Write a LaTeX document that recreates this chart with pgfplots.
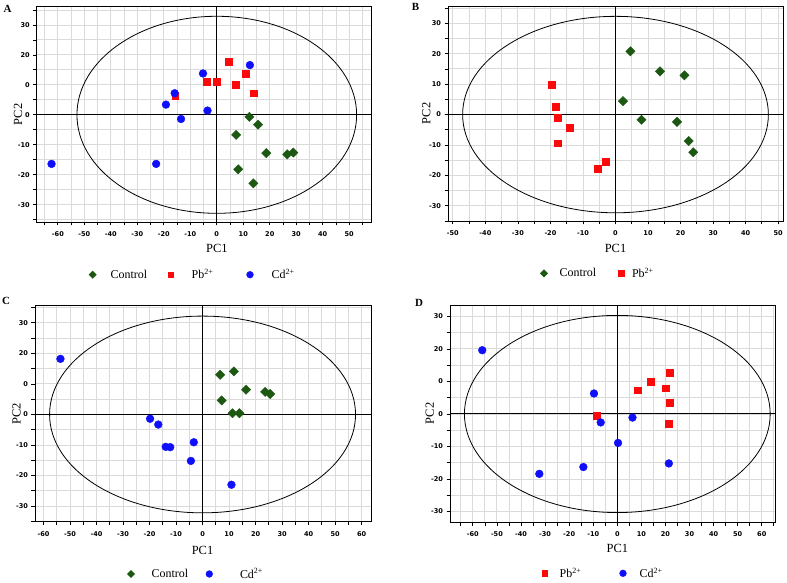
\documentclass[border=0pt]{standalone}
\usepackage{pgfplots}
\pgfplotsset{compat=1.18}
\usepackage{fontspec}
\setmainfont{Liberation Serif}
\newfontfamily\tickfont{DejaVu Sans}
\definecolor{cgreen}{RGB}{28,88,18}
\definecolor{cred}{RGB}{250,10,10}
\definecolor{cblue}{RGB}{15,15,250}
\definecolor{gridgray}{RGB}{218,218,218}
\pgfplotsset{
  pcaaxis/.style={
    scale only axis,
    axis line style={black, line width=0.9bp},
    tick align=outside, xtick pos=bottom, ytick pos=left,
    major tick length=3.5bp, minor tick length=3.5bp,
    every tick/.style={black, line width=0.8bp},
    grid=both,
    major grid style={gridgray, line width=0.9bp},
    minor grid style={gridgray, line width=0.9bp},
    ytick={-30,-20,-10,0,10,20,30},
    minor ytick={-35,-25,-15,-5,5,15,25,35},
    tick label style={font=\tickfont\bfseries\fontsize{6.6}{7}\selectfont},
    xticklabel style={yshift=-3bp},
    extra x ticks={0}, extra y ticks={0},
    extra x tick labels={}, extra y tick labels={},
    extra tick style={grid=major, major grid style={black, line width=1bp}},
    label style={font=\fontsize{12.5}{14}\selectfont},
    xlabel={PC1}, ylabel={PC2},
    legend style={draw=none, fill=none, inner sep=0pt, outer sep=0pt,
      nodes={inner sep=0pt, outer sep=0pt},
      font=\fontsize{12}{14}\selectfont, legend columns=-1,
      /tikz/every even column/.append style={column sep=0pt},
      anchor=west},
  },
  ctrl/.style={only marks, mark=square*, mark size=3.3bp,
    mark options={rotate=45, fill=cgreen, draw=cgreen},
    legend image code/.code={\path[draw=none, fill=none] (-8.5bp,0bp) -- (8.5bp,0bp);
      \draw[##1, mark size=2.6bp] plot coordinates {(0bp,0bp)};}},
  pb/.style={only marks, mark=square*, mark size=3.4bp,
    mark options={fill=cred, draw=cred},
    legend image code/.code={\path[draw=none, fill=none] (-8.5bp,0bp) -- (8.5bp,0bp);
      \draw[##1, mark size=2.9bp] plot coordinates {(0bp,0bp)};}},
  cd/.style={only marks, mark=*, mark size=3.9bp,
    mark options={fill=cblue, draw=cblue},
    legend image code/.code={\path[draw=none, fill=none] (-8.5bp,0bp) -- (8.5bp,0bp);
      \draw[##1, mark size=3.4bp] plot coordinates {(0bp,0bp)};}},
}
\begin{document}
\begin{tikzpicture}
\useasboundingbox (0bp,0bp) rectangle (787bp,583bp);
% ---------- A ----------
\begin{axis}[pcaaxis,
  at={(36.7bp,361bp)}, anchor=south west, width=335bp, height=215.3bp,
  xmin=-68, xmax=58.5, ymin=-35.8, ymax=36.1,
  xtick={-60,-50,-40,-30,-20,-10,0,10,20,30,40,50},
  xticklabels={-60,-50,-40,-30,-20,-10,0,10,20,30,40,50},
  minor xtick={-65,-55,-45,-35,-25,-15,-5,5,15,25,35,45,55},
  yticklabels={-30,-20,-10,0,0,20,30},
  xlabel style={at={(axis description cs:0.538,-0.124)}, anchor=center},
  ylabel style={at={(axis description cs:-0.0558,0.5)}, anchor=center},
  legend style={at={(axis description cs:0.1418,-0.2448)}},
]
\draw[black, line width=0.8bp] (axis cs:0,0) ellipse [x radius=52.8, y radius=32.9];
\addplot[ctrl] coordinates {(12.3,-0.7) (15.6,-3.3) (7.3,-6.7) (18.7,-12.8) (26.6,-13.2) (28.9,-12.6) (8.1,-18.2) (13.8,-22.9)};
\addlegendentry{\makebox[61bp][l]{\hspace{9.5bp}Control}}
\addplot[pb] coordinates {(4.4,17.8) (-3.9,11.1) (0,11.1) (11,13.8) (7.1,10.1) (13.8,7.2) (-15.7,6.3)};
\addlegendentry{\makebox[62.3bp][l]{\hspace{12.5bp}Pb\textsuperscript{2+}}}
\addplot[cd] coordinates {(12.5,16.6) (-5.2,13.8) (-15.9,7.2) (-19.2,3.4) (-3.5,1.4) (-13.5,-1.4) (-62.4,-16.4) (-22.9,-16.4)};
\addlegendentry{\makebox[40bp][l]{\hspace{13.2bp}Cd\textsuperscript{2+}}}
\end{axis}
% ---------- B ----------
\begin{axis}[pcaaxis,
  at={(448bp,362bp)}, anchor=south west, width=335bp, height=215bp,
  xmin=-51.5, xmax=51.5, ymin=-35, ymax=35.7,
  xtick={-50,-40,-30,-20,-10,0,10,20,30,40,50},
  xticklabels={-50,-40,-30,-20,-10,0,10,20,30,40,50},
  minor xtick={-45,-35,-25,-15,-5,5,15,25,35,45},
  yticklabels={-30,-20,-10,0,10,20,30},
  xlabel style={at={(axis description cs:0.5,-0.129)}, anchor=center},
  ylabel style={at={(axis description cs:-0.0648,0.5)}, anchor=center},
  legend style={at={(axis description cs:0.2612,-0.2433)}},
]
\draw[black, line width=0.8bp] (axis cs:0,0) ellipse [x radius=47, y radius=32.3];
\addplot[ctrl] coordinates {(4.6,20.8) (13.7,14.2) (21.2,12.9) (2.3,4.4) (8.0,-1.7) (18.9,-2.4) (22.5,-8.7) (23.9,-12.4)};
\addlegendentry{\makebox[60.3bp][l]{\hspace{7.2bp}Control}}
\addplot[pb] coordinates {(-19.5,9.8) (-18.5,2.7) (-17.7,-1.0) (-14.2,-4.3) (-17.7,-9.4) (-5.5,-17.8) (-2.9,-15.5)};
\addlegendentry{\makebox[40bp][l]{\hspace{2.2bp}Pb\textsuperscript{2+}}}
\end{axis}
% ---------- C ----------
\begin{axis}[pcaaxis,
  at={(35bp,61.3bp)}, anchor=south west, width=336.7bp, height=216bp,
  xmin=-63.2, xmax=63.8, ymin=-35.1, ymax=35.6,
  xtick={-60,-50,-40,-30,-20,-10,0,10,20,30,40,50,60},
  xticklabels={-60,-50,-40,-30,-20,-10,0,10,20,30,40,50,60},
  minor xtick={-55,-45,-35,-25,-15,-5,5,15,25,35,45,55},
  yticklabels={-30,-20,-10,0,0,20,30},
  xlabel style={at={(axis description cs:0.4975,-0.131)}, anchor=center},
  ylabel style={at={(axis description cs:-0.0544,0.5)}, anchor=center},
  legend style={at={(axis description cs:0.2599,-0.2421)}},
]
\draw[black, line width=0.8bp] (axis cs:0,0) ellipse [x radius=57.7, y radius=32.2];
\addplot[ctrl] coordinates {(6.65,13.0) (11.8,14.1) (16.4,8.1) (23.6,7.4) (25.5,6.7) (7.2,4.6) (11.3,0.4) (13.9,0.4)};
\addlegendentry{\makebox[61.3bp][l]{\hspace{12.2bp}Control}}
\addplot[cd] coordinates {(-53.6,18.2) (-19.8,-1.4) (-16.7,-3.3) (-13.9,-10.6) (-12.2,-10.7) (-3.3,-9.1) (-4.4,-15.2) (10.9,-23.0)};
\addlegendentry{\makebox[40bp][l]{\hspace{22.2bp}Cd\textsuperscript{2+}}}
\end{axis}
% ---------- D ----------
\begin{axis}[pcaaxis,
  at={(450bp,61bp)}, anchor=south west, width=325bp, height=217bp,
  xmin=-69.5, xmax=65.5, ymin=-33.2, ymax=33.5,
  xtick={-60,-50,-40,-30,-20,-10,0,10,20,30,40,50,60},
  xticklabels={-60,-50,-40,-30,-20,-10,0,10,20,30,40,50,60},
  minor xtick={-65,-55,-45,-35,-25,-15,-5,5,15,25,35,45,55,65},
  minor ytick={-25,-15,-5,5,15,25},
  yticklabels={-30,-20,-10,0,0,20,30},
  xlabel style={at={(axis description cs:0.515,-0.123)}, anchor=center},
  ylabel style={at={(axis description cs:-0.0625,0.5)}, anchor=center},
  legend style={at={(axis description cs:0.2652,-0.2364)}},
]
\draw[black, line width=0.8bp] (axis cs:0,0) ellipse [x radius=63.5, y radius=30.3];
\addplot[pb] coordinates {(-8.4,-0.6) (8.4,7.3) (14,9.9) (20,7.9) (21.7,12.7) (21.7,3.4) (21.4,-2.9)};
\addlegendentry{\makebox[61.3bp][l]{\hspace{6.5bp}Pb\textsuperscript{2+}}}
\addplot[cd] coordinates {(-56.1,19.6) (-9.7,6.3) (-6.9,-2.6) (6.3,-1.1) (0.3,-8.9) (-14.1,-16.3) (-32.4,-18.4) (21.4,-15.2)};
\addlegendentry{\makebox[40bp][l]{\hspace{8.2bp}Cd\textsuperscript{2+}}}
\end{axis}
% panel letters
\node[font=\bfseries\fontsize{11}{12}\selectfont] at (7.5bp,574.5bp) {A};
\node[font=\bfseries\fontsize{11}{12}\selectfont] at (415.5bp,576.3bp) {B};
\node[font=\bfseries\fontsize{11}{12}\selectfont] at (6bp,282.2bp) {C};
\node[font=\bfseries\fontsize{11}{12}\selectfont] at (419bp,280.5bp) {D};
\end{tikzpicture}
\end{document}
